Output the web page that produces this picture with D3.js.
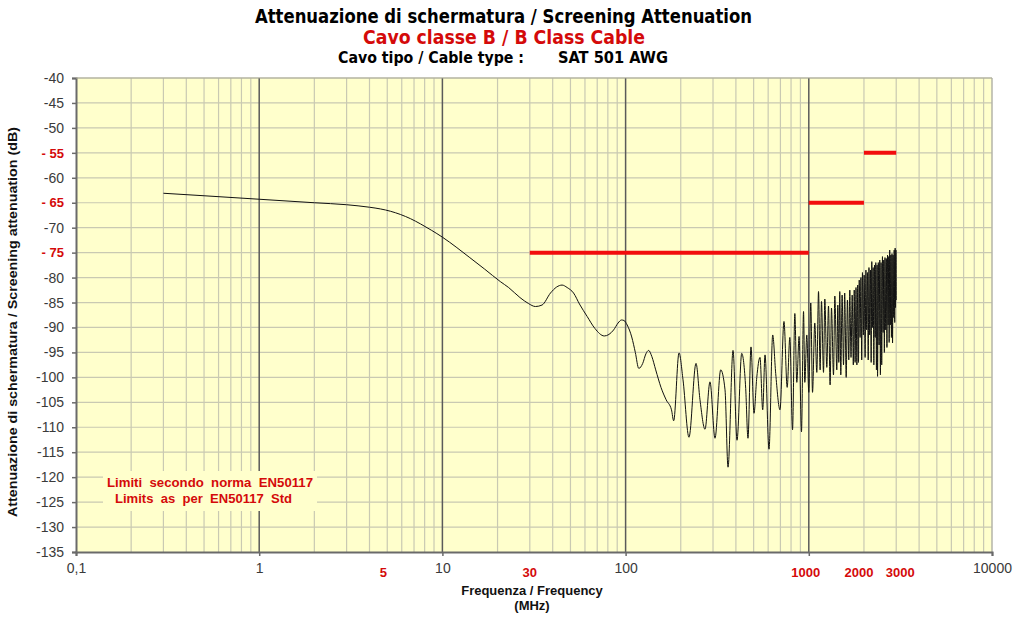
<!DOCTYPE html>
<html><head><meta charset="utf-8">
<script src="https://cdn.jsdelivr.net/npm/d3@7"></script>
<style>body{margin:0;background:#fff}svg{display:block}</style>
</head><body>
<svg id="c" width="1024" height="622"></svg>
<script>
// ---------- DATA ----------
const freqMHz = [
  0.3,0.5,1,2,3,4,4.6,5.2,5.9,6.7,7.6,8.7,10,12,14,17,20.7,23,26.5,29.5,32.2,35,38.9,42,45,48,52,56,61.7,68,76.5,86,91,95,98,102,108,113,118,124,129,133.6,139,146,156,166.5,178,183,
  195.7,205.8,221.8,242.3,254.7,271.3,288.8,307.6,330.4,348.9,362.3,385.8,405.7,430.3,452.4,465.6,483.6,502.2,520,541.6,560.3,576.7,606.4,635.3,659.6,696.3,
  732,762,788,815,839,860,885,912,936,951,975,
  1000,1025,1048,1078,1106,1130,1153,1173,1203,1223,1254,1281,1307,1330,1364,1387,1422,1440,1458,1476,1495,1520,1547,1570,1600,1625,1653,1674,
  1700,1725,1750,1770,1790,1810,1830,1850,1867,1885,1905,1925,1945,1963,1985,2005,2030,2050,2070,2090,2110,2130,2150,2170,2190,2207,2225,2245,
  2265,2285,2305,2321,2340,2360,2373,2395,2419,2440,2460,2480,2500,2524,2545,2565,2585,2605,2630,2650,2670,2690,2710,2730,2745,2765,2785,2805,
  2825,2845,2865,2885,2905,2925,2945,2960,2975,2990,3000
];
const attenDB = [
  -63.1,-63.6,-64.3,-65.0,-65.4,-65.9,-66.25,-66.7,-67.35,-68.2,-69.25,-70.5,-71.9,-74.0,-75.9,-78.3,-80.8,-82.0,-84.0,-85.2,-85.8,-85.5,-83.1,-81.9,-81.5,-82,-83.1,-85.3,-87.8,-90.2,-91.7,-90.5,-89.1,-88.5,-88.6,-89.5,-91.9,-95,-98.2,-97.2,-95.3,-94.6,-95.8,-98.5,-102,-104.5,-106.5,-108.7,
  -95.1,-100.5,-112,-97.2,-104.5,-110.4,-100.9,-112.2,-98.5,-102.5,-118,-94.6,-112.6,-95.2,-102.2,-112.2,-93.9,-107.2,-100,-96,-106.5,-95.5,-114.4,-91.5,-99.2,-106.5,
  -88.8,-102,-92,-110.5,-87.2,-101,-91.8,-110.9,-86.8,-101,-91.5,
  -103,-85.1,-103,-89.1,-99,-82.8,-98.5,-84.8,-99,-84.3,-98,-85.7,-101.5,-86.1,-99.5,-83.7,-98.5,-85.5,-97,-82.8,-99.5,-83.5,-97.5,-83.1,-100,-84.5,-96.5,-82.5,
  -96,-83.5,-97.5,-82.5,-97,-82,-97.5,-81.5,-97,-80.5,-92,-80,-96.5,-79,-91.5,-79.5,-96,-78.5,-90.5,-79,-96.5,-78,-91.5,-78.5,-97,-76.8,-90,-78,
  -97.5,-77.5,-92,-77,-98.5,-77.5,-99.8,-77,-93.5,-76.5,-99.5,-77,-97.5,-75.8,-91,-76.5,-95,-76,-90.5,-76.2,-94,-75.5,-89.5,-75.8,-93,-74.5,-89.5,-75.5,
  -92,-75.2,-93.1,-75.5,-88,-74.5,-89,-74.1,-86,-74.5,-84.5
];
const limitStart = [30, 1000, 2000];
const limitEnd   = [1000, 2000, 3000];
const limitValue = [-75, -65, -55];
const yTickValues = [-40,-45,-50,-55,-60,-65,-70,-75,-80,-85,-90,-95,-100,-105,-110,-115,-120,-125,-130,-135];
const yRedTicks = [-55,-65,-75];
const xTickValues = [0.1,1,10,100,1000,10000];
const xTickLabels = ["0,1","1","10","100","","10000"];
const xRedLabels = [5,30,1000,2000,3000];
const titleText = "Attenuazione di schermatura / Screening Attenuation";
const subtitleText = "Cavo classe B / B Class Cable";
const cableTypeLabel = "Cavo tipo / Cable type :";
const cableName = "SAT 501 AWG";
const noteLines = ["Limiti  secondo  norma  EN50117", "Limits  as  per  EN50117  Std"];
const yTitle = "Attenuazione di schermatura / Screening attenuation (dB)";
const xTitle = ["Frequenza / Frequency", "(MHz)"];

// ---------- LAYOUT ----------
const L = 76, R = 992, T = 78, B = 552;
const bg = "#FFFFCC", grid = "#c9c9b2", red = "#d40a0a";
const svg = d3.select("#c");
const x = d3.scaleLog().domain([0.1, 10000]).range([L, R]);
const y = d3.scaleLinear().domain([-135, -40]).range([B, T]);
const sans = "'Liberation Sans', Arial, sans-serif";
const narrow = "'Liberation Sans Narrow', 'Arial Narrow', 'DejaVu Sans Condensed', 'Liberation Sans', sans-serif";

svg.append("rect").attr("x", L).attr("y", T).attr("width", R - L).attr("height", B - T).attr("fill", bg);

// minor vertical grid
const minor = [];
[0.1, 1, 10, 100, 1000].forEach(d => { for (let k = 2; k <= 9; k++) minor.push(d * k); });
svg.append("g").selectAll("line").data(minor).join("line")
  .attr("x1", d => x(d)).attr("x2", d => x(d)).attr("y1", T).attr("y2", B)
  .attr("stroke", grid).attr("stroke-width", 1.2);
// horizontal grid
svg.append("g").selectAll("line").data(yTickValues.filter(v => v > -135)).join("line")
  .attr("x1", L).attr("x2", R).attr("y1", d => y(d)).attr("y2", d => y(d))
  .attr("stroke", grid).attr("stroke-width", 1.2);
// right border
svg.append("line").attr("x1", R).attr("x2", R).attr("y1", T).attr("y2", B).attr("stroke", "#b4b4a8").attr("stroke-width", 1.5);
// major vertical lines
svg.append("g").selectAll("line").data([1, 10, 100, 1000]).join("line")
  .attr("x1", d => x(d)).attr("x2", d => x(d)).attr("y1", T).attr("y2", B)
  .attr("stroke", "#5a5a5a").attr("stroke-width", 1.5);

// note box
svg.append("rect").attr("x", 103).attr("y", 471).attr("width", 214).attr("height", 40).attr("fill", bg);
svg.append("g").selectAll("text").data(noteLines).join("text")
  .attr("x", (d, i) => i ? 203.5 : 210).attr("y", (d, i) => 487 + i * 16)
  .attr("text-anchor", "middle").attr("font-family", sans).attr("font-weight", "bold")
  .attr("font-size", 13).attr("fill", red)
  .attr("textLength", (d, i) => i ? 177 : 206).attr("lengthAdjust", "spacingAndGlyphs")
  .style("white-space", "pre").text(d => d);

// limit lines
svg.append("g").selectAll("line").data(limitValue).join("line")
  .attr("x1", (d, i) => x(limitStart[i])).attr("x2", (d, i) => x(limitEnd[i]))
  .attr("y1", d => y(d)).attr("y2", d => y(d))
  .attr("stroke", "#f20d0d").attr("stroke-width", 4);

// data line
const pts = freqMHz.map((f, i) => [f, attenDB[i]]);
svg.append("path").datum(pts)
  .attr("d", d3.line().x(d => x(d[0])).y(d => y(d[1])).curve(d3.curveMonotoneX))
  .attr("fill", "none").attr("stroke", "#111").attr("stroke-width", 1);

// axes
const yAxis = d3.axisLeft(y).tickValues(yTickValues).tickSize(4).tickPadding(8)
  .tickFormat(v => yRedTicks.includes(v) ? "- " + Math.abs(v) : String(v));
const gy = svg.append("g").attr("transform", `translate(${L},0)`).call(yAxis);
gy.select(".domain").attr("stroke", "#6a6a6a").attr("stroke-width", 2);
gy.selectAll(".tick line").attr("stroke", "#6a6a6a").attr("stroke-width", 1.5);
gy.selectAll(".tick text").attr("font-family", sans).attr("font-size", 14).attr("fill", "#3a3a3a")
  .filter(v => yRedTicks.includes(v)).attr("fill", red).attr("font-weight", "bold").attr("font-size", 13);

const xAxis = d3.axisBottom(x).tickValues(xTickValues).tickSize(4).tickPadding(7)
  .tickFormat((v, i) => xTickLabels[i]);
const gx = svg.append("g").attr("transform", `translate(0,${B})`).call(xAxis);
gx.select(".domain").attr("stroke", "#6a6a6a").attr("stroke-width", 2);
gx.selectAll(".tick line").attr("stroke", "#6a6a6a").attr("stroke-width", 1.5);
gx.selectAll(".tick text").attr("font-family", sans).attr("font-size", 14).attr("fill", "#3a3a3a");

svg.append("line").attr("x1", L).attr("x2", R).attr("y1", T).attr("y2", T).attr("stroke", "#a8a898").attr("stroke-width", 1.2);

// red x labels (slight nudges as in the original layout)
const redNudge = {5: -4, 30: 0, 1000: -3, 2000: -5, 3000: 4};
svg.append("g").selectAll("text").data(xRedLabels).join("text")
  .attr("x", d => x(d) + redNudge[d]).attr("y", 577).attr("text-anchor", "middle")
  .attr("font-family", sans).attr("font-weight", "bold").attr("font-size", 13).attr("fill", red)
  .text(d => String(d));

// axis titles
svg.append("g").selectAll("text").data(xTitle).join("text")
  .attr("x", 532).attr("y", (d, i) => 595 + i * 15).attr("text-anchor", "middle")
  .attr("font-family", sans).attr("font-weight", "bold").attr("font-size", 13).attr("fill", "#111")
  .text(d => d);
svg.append("text").attr("transform", "translate(17,322) rotate(-90)").attr("text-anchor", "middle")
  .attr("font-family", sans).attr("font-weight", "bold").attr("font-size", 12).attr("fill", "#111")
  .attr("textLength", 390).attr("lengthAdjust", "spacingAndGlyphs").text(yTitle);

// titles
svg.append("text").attr("x", 503.5).attr("y", 23).attr("text-anchor", "middle")
  .attr("font-family", narrow).attr("font-weight", "bold").attr("font-size", 19).attr("fill", "#000")
  .attr("textLength", 497).attr("lengthAdjust", "spacingAndGlyphs").text(titleText);
svg.append("text").attr("x", 504).attr("y", 44).attr("text-anchor", "middle")
  .attr("font-family", narrow).attr("font-weight", "bold").attr("font-size", 19).attr("fill", red)
  .attr("textLength", 282).attr("lengthAdjust", "spacingAndGlyphs").text(subtitleText);
svg.append("text").attr("x", 338).attr("y", 63)
  .attr("font-family", narrow).attr("font-weight", "bold").attr("font-size", 16).attr("fill", "#000")
  .attr("textLength", 186).attr("lengthAdjust", "spacingAndGlyphs").text(cableTypeLabel);
svg.append("text").attr("x", 558).attr("y", 63)
  .attr("font-family", narrow).attr("font-weight", "bold").attr("font-size", 16).attr("fill", "#000")
  .attr("textLength", 110).attr("lengthAdjust", "spacingAndGlyphs").text(cableName);
</script>
</body></html>
